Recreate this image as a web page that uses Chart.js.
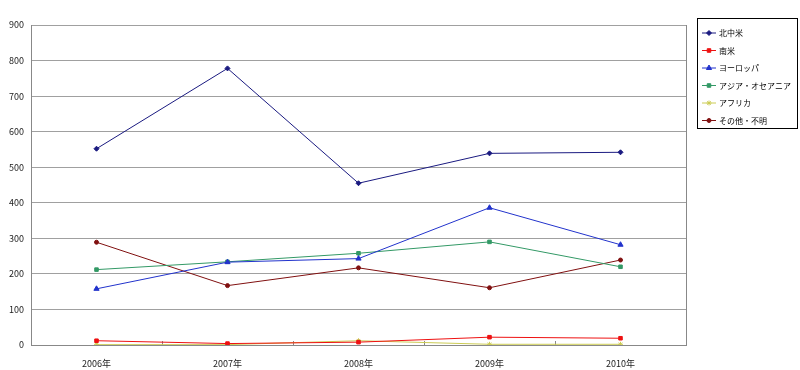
<!DOCTYPE html>
<html>
<head>
<meta charset="utf-8">
<script src="https://cdn.jsdelivr.net/npm/chart.js@4"></script>
<style>
  html, body { margin: 0; padding: 0; background: #fff; }
  #wrap { width: 800px; height: 370px; }
</style>
</head>
<body>
<div id="wrap"><canvas id="myChart" width="800" height="370"></canvas></div>
<script>
// data
const years = ['2006年', '2007年', '2008年', '2009年', '2010年'];
const northCentralAmerica = [552, 778, 455, 539, 542];
const southAmerica = [12, 4, 8, 22, 19];
const europe = [158, 233, 243, 386, 282];
const asiaOceania = [212, 234, 258, 290, 220];
const africa = [1, 1, 12, 2, 2];
const otherUnknown = [289, 167, 217, 161, 239];
const yTicks = [0, 100, 200, 300, 400, 500, 600, 700, 800, 900];

const font = '"Noto Sans CJK JP", "Noto Sans", sans-serif';

function series(label, values, color, style, size) {
    return {
        label: label,
        data: values,
        borderColor: color,
        backgroundColor: color,
        borderWidth: 1,
        pointStyle: style,
        pointRadius: size,
        pointBorderWidth: 1,
        tension: 0
    };
}

// draws the boxed legend on the right and the small tick marks on the x axis
const extras = {
    id: 'extras',
    beforeDatasetsDraw(chart) {
        const ctx = chart.ctx;
        const x = chart.scales.x;
        const area = chart.chartArea;
        ctx.save();
        ctx.strokeStyle = '#888';
        ctx.lineWidth = 1;
        for (let i = 0; i <= years.length; i++) {
            const px = Math.round(x.getPixelForValue(i - 0.5)) + 0.5;
            ctx.beginPath();
            ctx.moveTo(px, area.bottom);
            ctx.lineTo(px, area.bottom - 4);
            ctx.stroke();
        }
        // right border of plot
        ctx.beginPath();
        ctx.moveTo(Math.round(area.right) + 0.5, area.top);
        ctx.lineTo(Math.round(area.right) + 0.5, area.bottom);
        ctx.stroke();
        ctx.restore();
    },
    afterDraw(chart) {
        const ctx = chart.ctx;
        const left = 697, top = 18, w = 100, h = 110;
        ctx.save();
        ctx.strokeStyle = '#000';
        ctx.lineWidth = 1;
        ctx.strokeRect(left + 0.5, top + 0.5, w, h);
        ctx.font = '8px ' + font;
        ctx.textBaseline = 'middle';
        ctx.fillStyle = '#000';
        chart.data.datasets.forEach((ds, i) => {
            const y = top + 15 + i * 17.5;
            ctx.strokeStyle = ds.borderColor;
            ctx.beginPath();
            ctx.moveTo(left + 5, y);
            ctx.lineTo(left + 19, y);
            ctx.stroke();
            ctx.fillStyle = ds.backgroundColor;
            Chart.helpers.drawPoint(ctx, {
                pointStyle: ds.pointStyle, radius: ds.pointRadius, borderWidth: 1
            }, left + 12, y);
            ctx.fillStyle = '#000';
            ctx.fillText(ds.label, left + 22, y);
        });
        ctx.restore();
    }
};

const config = {
    type: 'line',
    data: {
        labels: years,
        datasets: [
            series('北中米', northCentralAmerica, '#1a1a80', 'rectRot', 2.5),
            series('南米', southAmerica, '#ee1111', 'rect', 2.5),
            series('ヨーロッパ', europe, '#2233cc', 'triangle', 3),
            series('アジア・オセアニア', asiaOceania, '#339966', 'rect', 2.5),
            series('アフリカ', africa, '#cccc55', 'star', 2.5),
            series('その他・不明', otherUnknown, '#801010', 'circle', 2)
        ]
    },
    options: {
        responsive: false,
        animation: false,
        layout: { padding: { left: 0, top: 25, right: 114, bottom: 0 } },
        plugins: {
            legend: { display: false },
            tooltip: { enabled: false }
        },
        scales: {
            x: {
                offset: true,
                grid: { display: false },
                border: { display: true, color: '#888' },
                ticks: { color: '#222', font: { family: font, size: 9 }, padding: 5 },
                afterFit(s) { s.height = 25; }
            },
            y: {
                min: 0,
                max: 900,
                afterBuildTicks(s) { s.ticks = yTicks.map(v => ({ value: v })); },
                grid: { color: '#a0a0a0', drawTicks: false },
                border: { display: true, color: '#888' },
                ticks: { color: '#222', font: { family: font, size: 9 }, padding: 7 },
                afterFit(s) { s.width = 31; }
            }
        }
    },
    plugins: [extras]
};

const myChart = new Chart(document.getElementById('myChart'), config);
</script>
</body>
</html>
